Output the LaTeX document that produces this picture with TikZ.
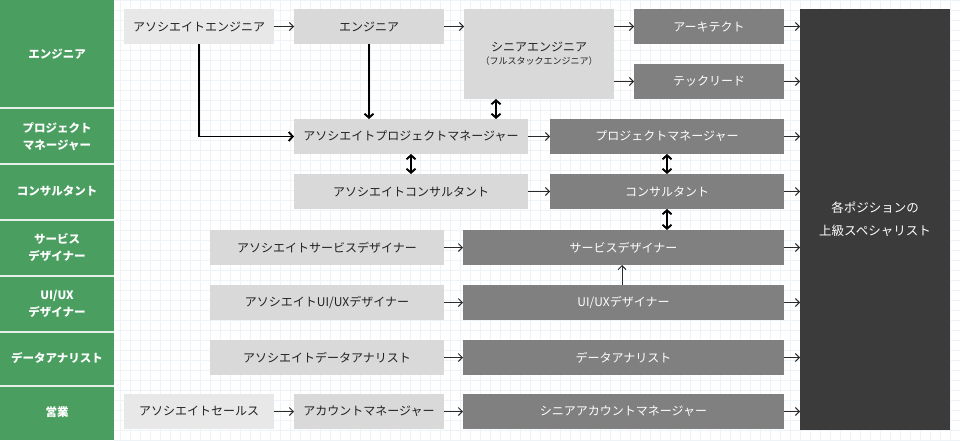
\documentclass[tikz,border=0pt]{standalone}
\usepackage{fontspec}
\setmainfont{Noto Sans CJK JP}
\usetikzlibrary{arrows.meta,calc}
\definecolor{grn}{HTML}{4A9E60}
\definecolor{boxlight}{HTML}{D9D9D9}
\definecolor{boxpale}{HTML}{E8E8E8}
\definecolor{boxmid}{HTML}{808080}
\definecolor{boxdark}{HTML}{3B3B3B}
\definecolor{gridc}{HTML}{EEF3F8}
\definecolor{txtdark}{HTML}{222222}
\definecolor{linec}{HTML}{2A2A2A}
\tikzset{
  x=1pt, y=-1pt,
  gridline/.style={draw=gridc, line width=0.7pt},
  basebox/.style={inner sep=0pt, outer sep=0pt, align=center, font=\fontsize{12}{14}\selectfont},
  lbox/.style={basebox, fill=boxlight, text=txtdark},
  pbox/.style={basebox, fill=boxpale, text=txtdark},
  mbox/.style={basebox, fill=boxmid, text=white},
  catlabel/.style={inner sep=0pt, align=center, text=white, font=\fontsize{11.5}{17}\selectfont\bfseries},
  arr/.style={draw=linec, line width=1pt, -{Straight Barb[length=4pt,width=8pt]}},
  varr/.style={draw=black, line width=1.9pt, -{Straight Barb[length=4pt,width=9pt]}},
  darr/.style={draw=black, line width=1.9pt, {Straight Barb[length=4pt,width=9pt]}-{Straight Barb[length=4pt,width=9pt]}},
}
\begin{document}
\begin{tikzpicture}
\useasboundingbox (0,0) rectangle (960,440);
\fill[white] (0,0) rectangle (960,440);
\foreach \i in {120,130,...,960} \draw[gridline] (\i,0) -- (\i,440);
\foreach \j in {0,10,...,440} \draw[gridline] (114,\j) -- (960,\j);
% left category column
\fill[grn] (0,0) rectangle (114,440);
\foreach \j in {108,164,220,276,332,386} \draw[white!85!grn, line width=1.2pt] (0,\j) -- (114,\j);
\node[catlabel] (c1) at (57,54) {エンジニア};
\node[catlabel] (c2) at (57,136.5) {プロジェクト\\マネージャー};
\node[catlabel] (c3) at (57,191.5) {コンサルタント};
\node[catlabel] (c4) at (57,247.5) {サービス\\デザイナー};
\node[catlabel] (c5) at (57,303.5) {UI/UX\\デザイナー};
\node[catlabel] (c6) at (57,357.5) {データアナリスト};
\node[catlabel] (c7) at (57,412) {営業};
% big box
\node[basebox, fill=boxdark, text=white, minimum width=150pt, minimum height=421pt, font=\fontsize{12.5}{23}\selectfont] (big) at (875,219.5) {各ポジションの\\上級スペシャリスト};
% engineer row
\node[pbox, minimum width=150pt, minimum height=35pt] (ae) at (199,26.5) {アソシエイトエンジニア};
\node[lbox, minimum width=150pt, minimum height=35pt] (eng) at (369,26.5) {エンジニア};
\node[lbox, minimum width=150pt, minimum height=90pt] (se) at (539,54) {シニアエンジニア\\[-1pt]{\fontsize{9}{11}\selectfont（フルスタックエンジニア）}};
\node[mbox, minimum width=150pt, minimum height=35pt] (arch) at (709,26.5) {アーキテクト};
\node[mbox, minimum width=150pt, minimum height=35pt] (tl) at (709,81.5) {テックリード};
% PM / consultant
\node[lbox, minimum width=234pt, minimum height=35pt] (apm) at (411,136.5) {アソシエイトプロジェクトマネージャー};
\node[mbox, minimum width=234pt, minimum height=35pt] (pm) at (667,136.5) {プロジェクトマネージャー};
\node[lbox, minimum width=234pt, minimum height=35pt] (ac) at (411,191.5) {アソシエイトコンサルタント};
\node[mbox, minimum width=234pt, minimum height=35pt] (con) at (667,191.5) {コンサルタント};
% designers, analyst
\node[lbox, minimum width=234pt, minimum height=35pt] (asd) at (327,247.5) {アソシエイトサービスデザイナー};
\node[mbox, minimum width=321pt, minimum height=35pt] (sd) at (623.5,247.5) {サービスデザイナー};
\node[lbox, minimum width=234pt, minimum height=35pt] (aux) at (327,302.5) {アソシエイトUI/UXデザイナー};
\node[mbox, minimum width=321pt, minimum height=35pt] (ux) at (623.5,302.5) {UI/UXデザイナー};
\node[lbox, minimum width=234pt, minimum height=35pt] (ada) at (327,357.5) {アソシエイトデータアナリスト};
\node[mbox, minimum width=321pt, minimum height=35pt] (da) at (623.5,357.5) {データアナリスト};
% sales
\node[pbox, minimum width=150pt, minimum height=35pt] (as) at (199,411.5) {アソシエイトセールス};
\node[lbox, minimum width=150pt, minimum height=35pt] (am) at (369,411.5) {アカウントマネージャー};
\node[mbox, minimum width=321pt, minimum height=35pt] (sam) at (623.5,411.5) {シニアアカウントマネージャー};
% horizontal arrows
\draw[arr] (ae.east) -- (eng.west);
\draw[arr] (eng.east) -- (eng.east -| se.west);
\draw[arr] (se.east |- arch.west) -- (arch.west);
\draw[arr] (se.east |- tl.west) -- (tl.west);
\draw[arr] (apm.east) -- (pm.west);
\draw[arr] (ac.east) -- (con.west);
\draw[arr] (asd.east) -- (sd.west);
\draw[arr] (aux.east) -- (ux.west);
\draw[arr] (ada.east) -- (da.west);
\draw[arr] (as.east) -- (am.west);
\draw[arr] (am.east) -- (sam.west);
\foreach \n in {arch,tl,pm,con,sd,ux,da,sam} \draw[arr] (\n.east) -- (\n.east -| big.west);
% vertical connectors
\draw[varr] (ae.south) |- (apm.west);
\draw[varr] (eng.south) -- (eng.south |- apm.north);
\draw[darr] ([xshift=-43pt]se.south) -- ([xshift=-43pt]se.south |- apm.north);
\draw[darr] (apm.south) -- (ac.north);
\draw[darr] (pm.south) -- (con.north);
\draw[darr] (con.south) -- (con.south |- sd.north);
\draw[arr] ([xshift=-1.5pt]ux.north) -- ([xshift=-1.5pt]sd.south);
\end{tikzpicture}
\end{document}
